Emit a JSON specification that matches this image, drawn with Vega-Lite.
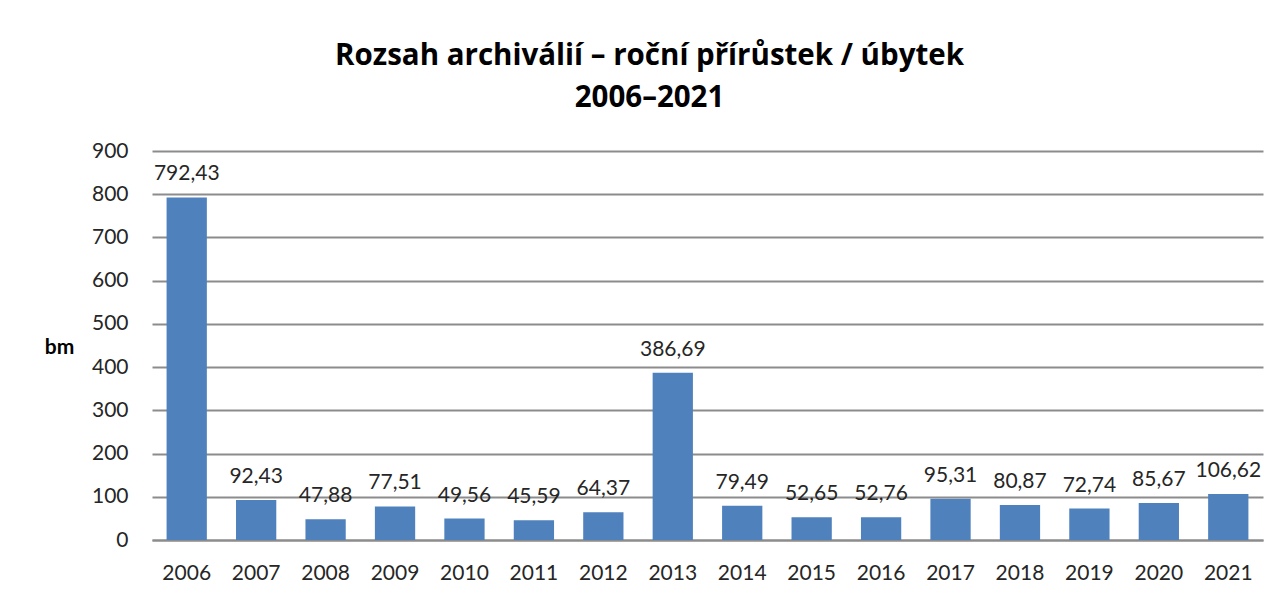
{
  "$schema": "https://vega.github.io/schema/vega-lite/v6.json",
  "autosize": "none",
  "width": 1111,
  "height": 389,
  "padding": {"left": 152, "top": 151, "right": 19, "bottom": 56},
  "background": "white",
  "config": {
    "locale": {"number": {"decimal": ",", "thousands": " ", "grouping": [3], "currency": ["", " Kč"]}},
    "view": {"stroke": null},
    "font": "Lato"
  },
  "title": {
    "text": ["Rozsah archiválií – roční přírůstek / úbytek", "2006–2021"],
    "font": "Open Sans",
    "fontSize": 29.5,
    "fontWeight": "bold",
    "color": "#000000",
    "anchor": "middle",
    "dx": -58,
    "lineHeight": 42,
    "offset": 27
  },
  "data": {
    "values": [
      {"year": "2006", "bm": 792.43},
      {"year": "2007", "bm": 92.43},
      {"year": "2008", "bm": 47.88},
      {"year": "2009", "bm": 77.51},
      {"year": "2010", "bm": 49.56},
      {"year": "2011", "bm": 45.59},
      {"year": "2012", "bm": 64.37},
      {"year": "2013", "bm": 386.69},
      {"year": "2014", "bm": 79.49},
      {"year": "2015", "bm": 52.65},
      {"year": "2016", "bm": 52.76},
      {"year": "2017", "bm": 95.31},
      {"year": "2018", "bm": 80.87},
      {"year": "2019", "bm": 72.74},
      {"year": "2020", "bm": 85.67},
      {"year": "2021", "bm": 106.62}
    ]
  },
  "encoding": {
    "x": {
      "field": "year",
      "type": "ordinal",
      "scale": {"paddingInner": 0.42, "paddingOuter": 0.21},
      "axis": {
        "title": null,
        "labelAngle": 0,
        "labelFont": "Lato",
        "labelFontSize": 21,
        "labelColor": "#262626",
        "labelPadding": 22,
        "ticks": false,
        "domain": true,
        "domainColor": "#8c8c8c",
        "domainWidth": 2
      }
    },
    "y": {
      "field": "bm",
      "type": "quantitative",
      "scale": {"domain": [0, 900], "nice": false},
      "axis": {
        "title": "bm",
        "titleAngle": 0,
        "titleFont": "Lato",
        "titleFontSize": 21,
        "titleFontWeight": "bold",
        "titleColor": "#000000",
        "titleX": -93,
        "titleY": 196,
        "titleAlign": "center",
        "titleBaseline": "middle",
        "values": [0, 100, 200, 300, 400, 500, 600, 700, 800, 900],
        "labelFont": "Lato",
        "labelFontSize": 21,
        "labelColor": "#262626",
        "labelPadding": 24,
        "ticks": false,
        "domain": false,
        "grid": true,
        "gridColor": "#8c8c8c",
        "gridWidth": 2
      }
    }
  },
  "layer": [
    {"mark": {"type": "bar", "color": "#4F81BD"}},
    {
      "mark": {"type": "text", "baseline": "alphabetic", "dy": -17, "fontSize": 21, "font": "Lato", "color": "#262626"},
      "encoding": {"text": {"field": "bm", "type": "quantitative", "format": ".2f"}}
    }
  ]
}
